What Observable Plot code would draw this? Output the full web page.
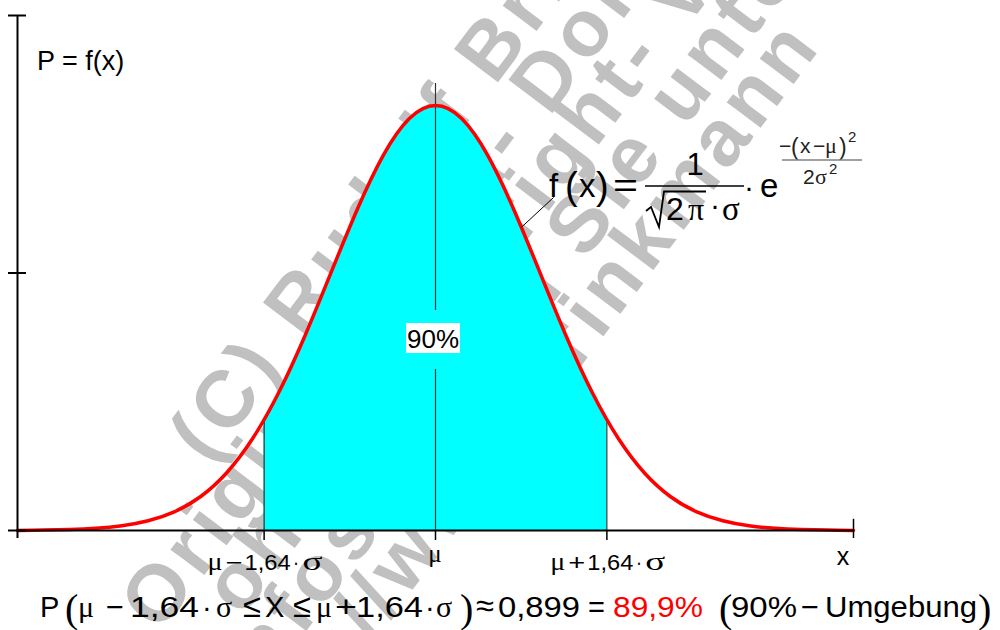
<!DOCTYPE html>
<html>
<head>
<meta charset="utf-8">
<script src="https://cdn.jsdelivr.net/npm/d3@7"></script>
<script src="https://cdn.jsdelivr.net/npm/@observablehq/plot@0.6"></script>
<style>
html, body { margin: 0; padding: 0; background: #fff; }
#chart svg { display: block; background: transparent; }
</style>
</head>
<body>
<div id="chart"></div>
<script>
// ---- data (x in units of sigma, mu = 0) ----
const curveX = [-4, -3.75, -3.5, -3.25, -3, -2.75, -2.5, -2.25, -2, -1.75, -1.5, -1.25, -1, -0.75, -0.5, -0.25, 0,
                0.25, 0.5, 0.75, 1, 1.25, 1.5, 1.75, 2, 2.25, 2.5, 2.75, 3, 3.25, 3.5, 3.75, 4];
const curveY = [0.0001, 0.0004, 0.0009, 0.0020, 0.0044, 0.0091, 0.0175, 0.0317, 0.0540, 0.0863, 0.1295, 0.1826, 0.2420, 0.3011, 0.3521, 0.3867, 0.3989,
                0.3867, 0.3521, 0.3011, 0.2420, 0.1826, 0.1295, 0.0863, 0.0540, 0.0317, 0.0175, 0.0091, 0.0044, 0.0020, 0.0009, 0.0004, 0.0001];
const fillX = [-1.64, -1.5, -1.25, -1, -0.75, -0.5, -0.25, 0, 0.25, 0.5, 0.75, 1, 1.25, 1.5, 1.64];
const fillY = [0.1040, 0.1295, 0.1826, 0.2420, 0.3011, 0.3521, 0.3867, 0.3989, 0.3867, 0.3521, 0.3011, 0.2420, 0.1826, 0.1295, 0.1040];
const boundX = [-1.64, 1.64];
const boundY = [0.1040, 0.1040];
const xDomain = [-4, 4];
const yMax = 0.4834;
const yTicks = [0, yMax / 2, yMax];
const tickValues = [-1.64, 0, 1.64];
const tickLabels = [["μ", "−", "1,64", "·", "σ"], ["μ"], ["μ", "+", "1,64", "·", "σ"]];
const axisLabelX = "x";
const axisLabelY = "P = f(x)";
const areaLabel = "90%";
const muLineTop = 0.4196;
const muGap = [0.1511, 0.2065];
const areaLabelY = 0.1802;
const leader = [{x1: 0.823, y1: 0.2847, x2: 1.13, y2: 0.3126}];
const equationParts = ["P", "(", "μ", "−", "1,64", "·", "σ", "≤", "X", "≤", "μ", "+", "1,64", "·", "σ", ")", "≈", "0,899", "=", "89,9%", "(", "90%", "−", "Umgebung", ")"];
const watermarkLines = ["(C) Rudolf Brinkmann", "Original- Bild- Dokument", "ohne Copyright- Vermerk", "Infos finden Sie unter", "http://www.brinkmann"];

const SANS = "'Liberation Sans', Arial, Helvetica, sans-serif";
const SERIF = "'Liberation Serif', 'Times New Roman', serif";
const GREEK = new Set(["μ", "σ", "π"]);

const curveData = curveX.map((x, i) => ({x, y: curveY[i]}));
const fillData = fillX.map((x, i) => ({x, y: fillY[i]}));
const boundData = boundX.map((x, i) => ({x, y: boundY[i]}));

function addText(g, x, y, s, o = {}) {
  const t = g.append("text")
    .attr("x", x).attr("y", y)
    .attr("font-size", o.size || 29)
    .attr("font-family", GREEK.has(s) || o.serif ? SERIF : SANS)
    .attr("text-anchor", o.anchor || "start")
    .attr("fill", o.fill || "#000")
    .text(s);
  if (o.len) t.attr("textLength", o.len).attr("lengthAdjust", "spacingAndGlyphs");
  return t;
}

// watermark (drawn first, under the fill)
function watermark() {
  const g = d3.create("svg:g");
  const P = [447, 509, 565, 624, 684];
  const S = [-246, -410, -348, -410, -497];
  watermarkLines.forEach((s, i) => {
    const x = 0.799 * P[i] + 0.602 * S[i];
    const y = 0.602 * P[i] - 0.799 * S[i];
    g.append("text")
      .attr("transform", `translate(${x},${y}) rotate(-53)`)
      .attr("font-family", SANS).attr("font-weight", "bold")
      .attr("font-size", 80).attr("letter-spacing", 6)
      .attr("fill", "#c0c0c0").attr("text-anchor", "start")
      .text(s);
  });
  return g.node();
}

function labels(index, scales) {
  const g = d3.create("svg:g");
  // 90% label with white box
  const lx = scales.x(0) - 2, ly = scales.y(areaLabelY);
  g.append("rect").attr("x", lx - 27).attr("y", ly - 15).attr("width", 54).attr("height", 30).attr("fill", "#fff");
  addText(g, lx, ly + 9.5, areaLabel, {size: 26, anchor: "middle"});

  // tick labels
  const centers = [scales.x(tickValues[0]) + 2, scales.x(tickValues[2]) + 2];
  const pieceOff = [-58, -40, -21, 27.5, 37];
  const pieceLen = [15, 17, 46, 6, 20];
  [0, 2].forEach((k, ci) => {
    tickLabels[k].forEach((p, j) => {
      addText(g, centers[ci] + pieceOff[j], 570, p, {
        size: GREEK.has(p) ? 25 : 22,
        len: pieceLen[j]
      });
    });
  });
  addText(g, scales.x(tickValues[1]), 562, tickLabels[1][0], {size: 25, anchor: "middle"});
  addText(g, scales.x(4) - 10, 565, axisLabelX, {size: 25, anchor: "middle"});
  addText(g, 37, 70, axisLabelY, {size: 27});

  // density formula
  addText(g, 549, 197, "f", {size: 33});
  addText(g, 565, 199, "(", {size: 38});
  addText(g, 579, 197, "x", {size: 33});
  addText(g, 596, 199, ")", {size: 38});
  addText(g, 613, 197, "=", {size: 33, len: 25});
  g.append("line").attr("x1", 645).attr("x2", 744).attr("y1", 186).attr("y2", 186).attr("stroke", "#000").attr("stroke-width", 1.5);
  addText(g, 695, 175, "1", {size: 31, anchor: "middle"});
  g.append("path").attr("d", "M646,211 L651,207 L659,227 L664,191.5 L706,191.5")
    .attr("fill", "none").attr("stroke", "#000").attr("stroke-width", 1.8).attr("stroke-linejoin", "miter");
  addText(g, 666, 220, "2", {size: 32});
  addText(g, 688, 220, "π", {size: 32});
  addText(g, 710, 215, "·", {size: 30});
  addText(g, 722, 220, "σ", {size: 33});
  addText(g, 744, 197, "·", {size: 30});
  addText(g, 760, 197, "e", {size: 33});
  // exponent
  addText(g, 779, 153, "−", {size: 21, fill: "#222"});
  addText(g, 791, 155, "(", {size: 23, fill: "#222"});
  addText(g, 800, 153, "x", {size: 21, fill: "#222"});
  addText(g, 813, 153, "−", {size: 21, fill: "#222"});
  addText(g, 825, 153, "μ", {size: 22, fill: "#222"});
  addText(g, 839, 155, ")", {size: 23, fill: "#222"});
  addText(g, 848, 142, "2", {size: 15, fill: "#222"});
  g.append("line").attr("x1", 782).attr("x2", 862).attr("y1", 160).attr("y2", 160).attr("stroke", "#808080").attr("stroke-width", 1.5);
  addText(g, 803, 184, "2", {size: 21, fill: "#222"});
  addText(g, 815, 184, "σ", {size: 22, fill: "#222"});
  addText(g, 829, 174, "2", {size: 15, fill: "#222"});

  // bottom equation
  const xs = [40, 65, 78, 106, 130, 202, 216, 243, 265, 293, 316, 335, 356, 425, 436, 460, 476, 498, 588, 613, 719, 731, 801, 825, 978];
  const lens = {3: 18, 4: 69, 7: 18, 9: 18, 11: 22, 12: 67, 16: 18, 17: 82, 19: 90, 21: 66, 22: 18, 23: 152};
  equationParts.forEach((s, i) => {
    const paren = s === "(" || s === ")";
    const rel = s === "≤" || s === "≈";
    addText(g, xs[i], paren ? 622 : 617, s, {
      size: paren ? 40 : (GREEK.has(s) ? 30 : (rel ? 33 : 29)),
      serif: paren,
      fill: i === 19 ? "#ff0000" : "#000",
      len: lens[i]
    });
  });
  return g.node();
}

const chart = Plot.plot({
  width: 1000,
  height: 630,
  marginLeft: 17,
  marginRight: 147,
  marginTop: 15,
  marginBottom: 100,
  x: {domain: xDomain, axis: null},
  y: {domain: [0, yMax], axis: null},
  style: {background: "transparent", fontFamily: SANS},
  marks: [
    watermark,
    Plot.areaY(fillData, {x: "x", y: "y", fill: "#00ffff", curve: "natural"}),
    Plot.ruleX(boundData, {x: "x", y1: 0, y2: "y", stroke: "#111", strokeWidth: 1}),
    Plot.ruleX([{y1: 0, y2: muGap[0]}, {y1: muGap[1], y2: muLineTop}], {x: 0, y1: "y1", y2: "y2", stroke: "#333", strokeWidth: 1.2}),
    Plot.line(curveData, {x: "x", y: "y", stroke: "#ff0000", strokeWidth: 3.5, curve: "natural"}),
    Plot.ruleX([xDomain[0]], {y1: -0.0075, y2: yMax, stroke: "#000", strokeWidth: 2}),
    Plot.ruleY([0], {x1: xDomain[0], x2: xDomain[1], stroke: "#000", strokeWidth: 2}),
    Plot.ruleY(yTicks, {x1: xDomain[0] - 0.086, x2: xDomain[0] + 0.086, stroke: "#000", strokeWidth: 2}),
    Plot.ruleX(tickValues, {y1: -0.0094, y2: 0, stroke: "#000", strokeWidth: 1.5}),
    Plot.ruleX([xDomain[1]], {y1: -0.0075, y2: 0.0105, stroke: "#000", strokeWidth: 1.5}),
    Plot.link(leader, {x1: "x1", y1: "y1", x2: "x2", y2: "y2", stroke: "#000", strokeWidth: 1}),
    labels
  ]
});
document.getElementById("chart").appendChild(chart);
</script>
</body>
</html>
